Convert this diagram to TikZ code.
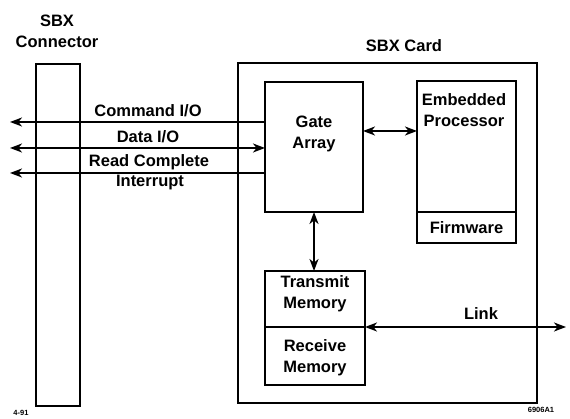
\documentclass[tikz,border=0pt]{standalone}
\usepackage{fontspec}
\setmainfont{Liberation Sans}
\usetikzlibrary{arrows.meta}
\begin{document}
\begin{tikzpicture}[x=1pt,y=-1pt,
  box/.style={draw,line width=2.4pt,rectangle,inner sep=0pt,outer sep=0pt},
  txt/.style={align=center,font=\bfseries\fontsize{16.5}{21}\selectfont,inner sep=0pt},
  sig/.style={line width=1.6pt},
  tip/.style={-{Stealth[length=12pt,width=9pt,inset=3.5pt]}},
  tips/.style={{Stealth[length=12pt,width=9pt,inset=3.5pt]}-{Stealth[length=12pt,width=9pt,inset=3.5pt]}}]
\useasboundingbox (0,0) rectangle (570,419);

% connector strip and card outline
\node[box,minimum width=44pt,minimum height=342pt] (conn) at (58,235) {};
\node[box,minimum width=299pt,minimum height=340pt] (card) at (387.5,233) {};

% blocks on the card
\node[box,minimum width=98pt,minimum height=130pt] (gate) at (314,147) {};
\node[box,minimum width=99pt,minimum height=131pt] (proc) at (466.5,146.5) {};
\node[box,minimum width=99pt,minimum height=31pt,anchor=north] (fw) at (proc.south) {};
\node[box,minimum width=100pt,minimum height=56pt] (tx) at (315,299) {};
\node[box,minimum width=100pt,minimum height=58pt,anchor=north] (rx) at (tx.south) {};

% titles
\node[txt] (conntitle) at (57,31) {SBX\\Connector};
\node[txt] (cardtitle) at (404,46) {SBX Card};

% block texts
\node[txt] (gatetxt) at (314,134) {Gate\\Array};
\node[txt] (proctxt) at (464,110) {Embedded\\Processor};
\node[txt] (fwtxt) at (fw.center) {Firmware};
\node[txt] (txtxt) at (315,294) {Transmit\\Memory};
\node[txt] (rxtxt) at (315,358) {Receive\\Memory};

% bus signals to the connector
\coordinate (cmdL) at (10,122);
\coordinate (dataL) at (10,148);
\coordinate (rdL) at (10,173);
\draw[sig,tip] (cmdL -| gate.west) -- (cmdL);
\draw[sig,tips] (dataL) -- (dataL -| gate.west);
\draw[sig,tip] (rdL -| gate.west) -- (rdL);
\node[txt] (cmdtxt) at (148,111) {Command I/O};
\node[txt] (datatxt) at (148,137) {Data I/O};
\node[txt] (rdtxt) at (149,162) {Read Complete};
\node[txt] (inttxt) at (150,183) {Interrupt};

% internal paths
\draw[sig,tips] (gate.east |- 0,131) -- (proc.west |- 0,131);
\draw[sig,tips] (gate.south) -- (tx.north -| gate.south);
\coordinate (linkR) at (566,327);
\draw[sig,tips] (tx.south east) -- (linkR);
\node[txt] (linktxt) at (481,314) {Link};

% figure codes
\node[font=\bfseries\fontsize{7.5}{9}\selectfont,inner sep=0pt] (date) at (21,413) {4-91};
\node[font=\bfseries\fontsize{7.5}{9}\selectfont,inner sep=0pt] (code) at (541,410) {6906A1};
\end{tikzpicture}
\end{document}
